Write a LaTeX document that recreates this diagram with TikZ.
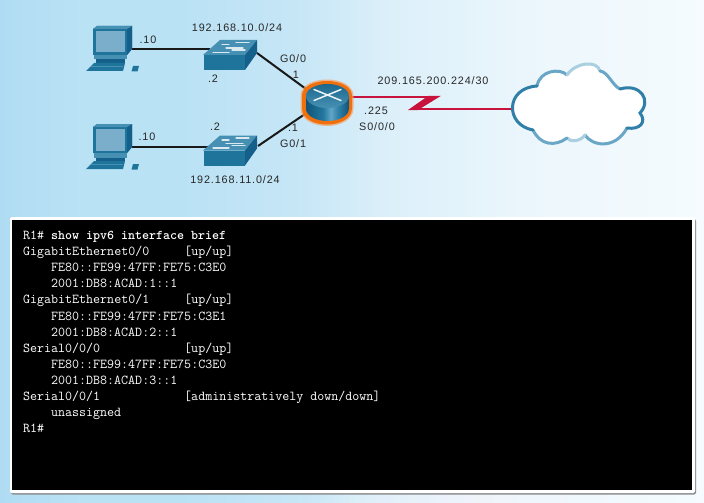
\documentclass[tikz,border=0pt]{standalone}
\usepackage{fontspec}
\usetikzlibrary{fadings}
\newfontfamily\labfont[LetterSpace=8]{Liberation Sans}
\definecolor{devDark}{HTML}{14608A}
\definecolor{devMid}{HTML}{1F749C}
\definecolor{devLight}{HTML}{4690B4}
\definecolor{screenC}{HTML}{7AAECB}
\definecolor{haloC}{HTML}{F0700E}
\definecolor{haloS}{HTML}{F6A060}
\definecolor{serialC}{HTML}{C8143C}
\definecolor{cloudC}{HTML}{2F7FA8}
\definecolor{cloudM}{HTML}{6AA6C5}
\definecolor{cloudT}{HTML}{A9CFE0}
\definecolor{bgA}{HTML}{B0DCF3}
\definecolor{bgB}{HTML}{BAE2F5}
\definecolor{bgC}{HTML}{C6E6F6}
\definecolor{bgD}{HTML}{DDF0FA}
\definecolor{bgE}{HTML}{EDF7FC}
\definecolor{bgF}{HTML}{F5FBFE}
\definecolor{rtA}{HTML}{0F5478}
\definecolor{rtB}{HTML}{2478A0}
\definecolor{rtC}{HTML}{60A5C6}
\definecolor{rtD}{HTML}{3082AA}
\pgfdeclarehorizontalshading{bgh}{100bp}{
  color(0bp)=(bgA);
  color(25bp)=(bgA);
  color(31bp)=(bgB);
  color(38bp)=(bgB);
  color(46bp)=(bgC);
  color(53bp)=(bgD);
  color(64bp)=(bgE);
  color(75bp)=(bgF);
  color(100bp)=(bgF)}
\pgfdeclarehorizontalshading{routerh}{100bp}{
  color(0bp)=(rtA);
  color(25bp)=(rtA);
  color(45bp)=(rtB);
  color(54bp)=(rtC);
  color(62bp)=(rtD);
  color(75bp)=(rtA);
  color(100bp)=(rtA)}
\tikzset{
  lbl/.style={font=\labfont\fontsize{10.8}{12}\selectfont,text=black!85,inner sep=0pt},
  ethlink/.style={draw=black!90,line width=2pt},
  cloudline/.style={line width=3pt,line cap=round},
  swbar/.style={draw=white!80!devLight,line width=1.2pt,line cap=round},
  pics/pcbox/.style={code={
    \fill[devMid] (93,29) -- (97,26) -- (132,26) -- (132,49) -- (127,55) -- (93,55) -- cycle;
    \fill[devDark] (127,29) -- (132,26) -- (132,49) -- (127,55) -- cycle;
    \fill[devLight] (93,29) -- (97,26) -- (132,26) -- (127,29) -- cycle;
    \fill[screenC] (96,31) rectangle (125,52.5);
    \fill[devLight] (93.5,55) rectangle (127,59.5);
    \fill[devDark] (96,59.5) rectangle (125,63);
    \fill[devMid] (86,71) -- (94,63) -- (125,63) -- (123,71) -- cycle;
    \draw[devLight,line width=.6pt] (91,66.5) -- (123,66.5);
    \fill[devMid] (131.5,71.5) -- (133,66) -- (139,66) -- (137.5,71.5) -- cycle;
    \draw[white!70!devLight,line width=.5pt] (130,58) .. controls (140,57) and (142,60) .. (136,65);
  }},
  pics/swbox/.style={code={
    \fill[devLight] (203,55) -- (220,40) -- (257,40) -- (245,55) -- cycle;
    \fill[devMid] (203.5,55) rectangle (245,70);
    \fill[devDark] (245,55) -- (257,40) -- (257,53) -- (245,70) -- cycle;
    \draw[swbar] (222,44.5) -- (229,44.5);
    \draw[swbar] (236,42.5) -- (249,42.5);
    \draw[swbar] (226,48) -- (243,48);
    \draw[swbar] (213,52.5) -- (229,52.5);
    \draw[swbar] (232,50) -- (245,50);
  }}
}
\begin{document}
\begin{tikzpicture}[x=1pt,y=-1pt]
\useasboundingbox (0,0) rectangle (704,503);
% background
\shade[shading=bgh] (0,0) rectangle (704,503);
\foreach \k in {0,...,15} {
  \fill[white,opacity=.06] (704,{120+\k*14}) -- (704,503) -- ({320+\k*14},503) -- cycle;
}
% labels
\node[lbl] (n1) at (237,28) {192.168.10.0/24};
\node[lbl] (n2) at (235,180) {192.168.11.0/24};
\node[lbl] (a1) at (148,40) {.10};
\node[lbl] (a2) at (147,137) {.10};
\node[lbl] (b1) at (213,79) {.2};
\node[lbl] (b2) at (215,127) {.2};
\node[lbl] (g0) at (293,59) {G0/0};
\node[lbl] (g1) at (293,144) {G0/1};
\node[lbl] (d0) at (294,75) {.1};
\node[lbl] (d1) at (293,128) {.1};
\node[lbl] (n3) at (433,81) {209.165.200.224/30};
\node[lbl] (s1) at (376,111) {.225};
\node[lbl] (s2) at (377,127) {S0/0/0};
% anchors
\coordinate (pc1p) at (132,49);
\coordinate (pc2p) at (132,146.5);
\coordinate (sw1w) at (210,49);
\coordinate (sw2w) at (208,146.5);
\coordinate (sw1e) at (257,53);
\coordinate (sw2e) at (258,146);
\coordinate (r1a) at (306,89);
\coordinate (r1b) at (305,114);
\coordinate (r1s) at (349,97);
\coordinate (bolt1) at (436,97);
\coordinate (bolt2) at (412,109);
\coordinate (cloudw) at (514,109);
% links
\draw[ethlink] (pc1p) -- (sw1w);
\draw[ethlink] (pc2p) -- (sw2w);
\draw[ethlink] (sw1e) -- (r1a);
\draw[ethlink] (sw2e) -- (r1b);
\draw[serialC,line width=1.8pt] (r1s) -- (bolt1);
\draw[serialC,line width=1.8pt] (bolt2) -- (cloudw);
\fill[serialC] (428,96) -- (441,95.8) -- (418,110) -- (408,110) -- cycle;
% PCs and switches
\pic {pcbox};
\pic[yshift=-98pt] {pcbox};
\pic {swbox};
\pic[yshift=-95.5pt] {swbox};
% router
\fill[haloS,opacity=.7] (300.5,96) .. controls (300.5,74) and (353.5,74) .. (353.5,96) -- (353.5,108) .. controls (353.5,132) and (300.5,132) .. (300.5,108) -- cycle;
\fill[haloC] (302,96) .. controls (302,76) and (352,76) .. (352,96) -- (352,108) .. controls (352,130) and (302,130) .. (302,108) -- cycle;
\shade[shading=routerh] (306,96) -- (306,108) .. controls (306,125.3) and (349,125.3) .. (349,108) -- (349,96) -- cycle;
\shade[top color=devMid!90!black,bottom color=devLight] (327.5,96) ellipse [x radius=21.5,y radius=12];
\draw[white!90!devLight,line width=1.5pt,line cap=round] (314,89.5) -- (341,100.5) (341,89.5) -- (314,100.5);
% cloud
\fill[white] (533,130)
  .. controls (505,125) and (505,88) .. (537,86)
  .. controls (540,70) and (560,68) .. (567,75)
  .. controls (576,62) and (597,60) .. (600,71)
  .. controls (608,72) and (612,85) .. (620,89)
  .. controls (640,83) and (652,100) .. (640,113)
  .. controls (647,122) and (640,130) .. (627,128)
  .. controls (615,150) and (592,146) .. (585,135)
  .. controls (580,142) and (570,142) .. (567,138)
  .. controls (555,147) and (540,145) .. (533,130) -- cycle;
\draw[cloudM,cloudline] (537,86) .. controls (540,70) and (560,68) .. (567,75);
\draw[cloudT,cloudline] (567,75) .. controls (576,62) and (597,60) .. (600,71);
\draw[cloudM,cloudline] (600,71) .. controls (608,72) and (612,85) .. (620,89);
\draw[cloudM,cloudline] (627,128) .. controls (615,150) and (592,146) .. (585,135);
\draw[cloudT,cloudline] (585,135) .. controls (580,142) and (570,142) .. (567,138);
\draw[cloudM,cloudline] (567,138) .. controls (555,147) and (540,145) .. (533,130);
\draw[cloudC,cloudline] (533,130) .. controls (505,125) and (505,88) .. (537,86);
\draw[cloudC,cloudline] (620,89) .. controls (640,83) and (652,100) .. (640,113)
  .. controls (647,122) and (640,130) .. (627,128);
% terminal
\fill[black!45,rounded corners=2pt] (11,219) rectangle (696,494.5);
\fill[white,rounded corners=2pt] (10,217) rectangle (695,493);
\fill[black] (12,219.5) rectangle (692,489.5);
\node[anchor=north west,align=left,inner sep=0pt,text=white,
  font=\ttfamily\fontsize{13.6}{16.08}\selectfont] (term) at (23,231) {%
R1\# {\fontsize{13.33}{16.08}\selectfont\bfseries show ipv6 interface brief}\\
GigabitEthernet0/0\hspace*{35pt}[up/up]\\
\hspace*{28pt}FE80::FE99:47FF:FE75:C3E0\\
\hspace*{28pt}2001:DB8:ACAD:1::1\\
GigabitEthernet0/1\hspace*{35pt}[up/up]\\
\hspace*{28pt}FE80::FE99:47FF:FE75:C3E1\\
\hspace*{28pt}2001:DB8:ACAD:2::1\\
Serial0/0/0\hspace*{84pt}[up/up]\\
\hspace*{28pt}FE80::FE99:47FF:FE75:C3E0\\
\hspace*{28pt}2001:DB8:ACAD:3::1\\
Serial0/0/1\hspace*{84pt}[administratively down/down]\\
\hspace*{28pt}unassigned\\
R1\#};
\end{tikzpicture}
\end{document}
